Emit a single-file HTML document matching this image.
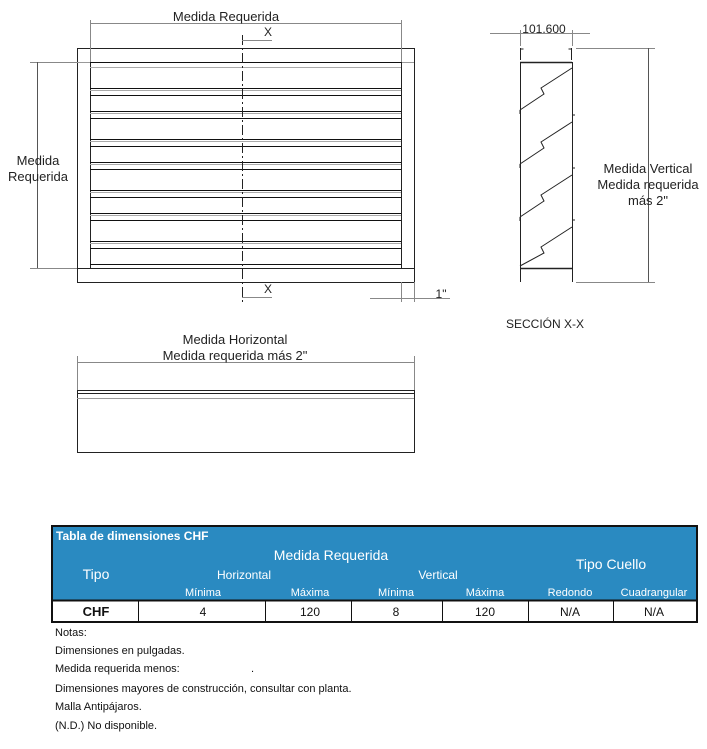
<!DOCTYPE html>
<html><head><meta charset="utf-8"><style>
body{margin:0;background:#fff;width:707px;height:749px;overflow:hidden;font-family:"Liberation Sans",sans-serif}
svg{position:absolute;left:0;top:0}
</style></head><body>
<svg width="707" height="749" viewBox="0 0 707 749" font-family="Liberation Sans, sans-serif">
<g stroke="#222" fill="none" stroke-width="1">
<!-- front view -->
<rect x="77.5" y="48.5" width="337" height="234"/>
<line x1="77" y1="62.5" x2="414" y2="62.5" stroke="#999"/>
<line x1="77" y1="268.5" x2="414" y2="268.5"/>
<line x1="90.5" y1="62" x2="90.5" y2="268"/>
<line x1="401.5" y1="62" x2="401.5" y2="268"/>
<g stroke="#111">
<line x1="90" y1="62.5" x2="401" y2="62.5"/>
<line x1="90" y1="88.5" x2="401" y2="88.5"/><line x1="90" y1="95.5" x2="401" y2="95.5"/>
<line x1="90" y1="111.5" x2="401" y2="111.5"/><line x1="90" y1="118.5" x2="401" y2="118.5"/>
<line x1="90" y1="139.5" x2="401" y2="139.5"/><line x1="90" y1="146.5" x2="401" y2="146.5"/>
<line x1="90" y1="162.5" x2="401" y2="162.5"/><line x1="90" y1="169.5" x2="401" y2="169.5"/>
<line x1="90" y1="190.5" x2="401" y2="190.5"/><line x1="90" y1="197.5" x2="401" y2="197.5"/>
<line x1="90" y1="213.5" x2="401" y2="213.5"/><line x1="90" y1="220.5" x2="401" y2="220.5"/>
<line x1="90" y1="241.5" x2="401" y2="241.5"/><line x1="90" y1="248.5" x2="401" y2="248.5"/>
<line x1="90" y1="264.5" x2="401" y2="264.5"/>
</g>
<g stroke="#aaa">
<line x1="90" y1="67.5" x2="401" y2="67.5"/><line x1="90" y1="90.5" x2="401" y2="90.5"/>
<line x1="90" y1="113.5" x2="401" y2="113.5"/><line x1="90" y1="141.5" x2="401" y2="141.5"/>
<line x1="90" y1="164.5" x2="401" y2="164.5"/><line x1="90" y1="192.5" x2="401" y2="192.5"/>
<line x1="90" y1="215.5" x2="401" y2="215.5"/><line x1="90" y1="243.5" x2="401" y2="243.5"/>
</g>
<line x1="242.5" y1="35" x2="242.5" y2="302" stroke-dasharray="10,3,2,3"/>
<!-- dims -->
<line x1="90.5" y1="20" x2="90.5" y2="62" stroke="#888"/>
<line x1="401.5" y1="20" x2="401.5" y2="62" stroke="#888"/>
<line x1="90" y1="23.5" x2="401" y2="23.5" stroke="#888"/>
<line x1="30" y1="62.5" x2="77" y2="62.5" stroke="#888"/>
<line x1="30" y1="268.5" x2="77" y2="268.5" stroke="#888"/>
<line x1="37.5" y1="62" x2="37.5" y2="268" stroke="#555"/>
<line x1="242" y1="40.5" x2="272" y2="40.5" stroke="#888"/>
<line x1="242" y1="297.5" x2="272" y2="297.5" stroke="#888"/>
<line x1="401.5" y1="282" x2="401.5" y2="302" stroke="#888"/>
<line x1="414.5" y1="282" x2="414.5" y2="302" stroke="#888"/>
<line x1="370" y1="298.5" x2="450" y2="298.5" stroke="#888"/>
<!-- section -->
<path d="M520.5 48v12M520.5 49h3M571.5 48v12M571.5 49h-3"/>
<line x1="520" y1="62.5" x2="572" y2="62.5" stroke-width="1.5"/>
<line x1="520.5" y1="62" x2="520.5" y2="268"/>
<line x1="572.5" y1="62" x2="572.5" y2="268"/>
<line x1="520" y1="268.5" x2="572" y2="268.5" stroke-width="1.5"/>
<path d="M520.5 268v14M572.5 268v14"/>
<path d="M572 68 L541 88 L544 94 L520 110 M572 122 L541 142 L544 148 L520 164 M572 175 L541 195 L544 201 L520 217 M572 227 L541 247 L544 253 L520 266"/>
<path d="M572 115h3M572 168h3M572 220h3M520 110v4M520 164v4M520 217v4"/>
<line x1="520.5" y1="30" x2="520.5" y2="46" stroke="#888"/>
<line x1="572.5" y1="30" x2="572.5" y2="46" stroke="#888"/>
<line x1="490" y1="33.5" x2="590" y2="33.5" stroke="#888"/>
<line x1="576" y1="48.5" x2="655" y2="48.5" stroke="#888"/>
<line x1="576" y1="282.5" x2="655" y2="282.5" stroke="#888"/>
<line x1="648.5" y1="48" x2="648.5" y2="282" stroke="#555"/>
<!-- bottom view -->
<line x1="77.5" y1="356" x2="77.5" y2="390" stroke="#888"/>
<line x1="414.5" y1="356" x2="414.5" y2="390" stroke="#888"/>
<line x1="77" y1="362.5" x2="414" y2="362.5" stroke="#888"/>
<rect x="77.5" y="390.5" width="337" height="62"/>
<line x1="77" y1="393.5" x2="414" y2="393.5"/>
<line x1="77" y1="398.5" x2="414" y2="398.5" stroke="#999"/>
</g>
<g font-family="Liberation Sans, DejaVu Sans, sans-serif" font-size="13" fill="#222" text-anchor="middle">
<text x="226" y="21">Medida Requerida</text>
<text x="38" y="165">Medida</text><text x="38" y="181">Requerida</text>
<text x="268" y="36" font-size="12">X</text>
<text x="268" y="293" font-size="12">X</text>
<text x="441" y="298" font-size="12">1"</text>
<text x="544" y="33" font-size="12">101.600</text>
<text x="648" y="173">Medida Vertical</text>
<text x="648" y="189">Medida requerida</text>
<text x="648" y="205">más 2"</text>
<text x="545" y="328" font-size="12">SECCIÓN X-X</text>
<text x="235" y="344">Medida Horizontal</text>
<text x="235" y="360">Medida requerida más 2"</text>
</g>
<!-- table -->
<rect x="52" y="526" width="645" height="96" fill="#fff" stroke="#111" stroke-width="2"/>
<rect x="53" y="527" width="643" height="73" fill="#2a8ac1"/>
<line x1="52" y1="600.5" x2="697" y2="600.5" stroke="#111" stroke-width="2"/>
<g stroke="#111"><line x1="138.5" y1="601" x2="138.5" y2="622"/><line x1="265.5" y1="601" x2="265.5" y2="622"/><line x1="351.5" y1="601" x2="351.5" y2="622"/><line x1="442.5" y1="601" x2="442.5" y2="622"/><line x1="528.5" y1="601" x2="528.5" y2="622"/><line x1="613.5" y1="601" x2="613.5" y2="622"/></g>
<g font-family="Liberation Sans, sans-serif" fill="#fff" text-anchor="middle">
<text x="56" y="540" font-size="12" font-weight="bold" text-anchor="start">Tabla de dimensiones  CHF</text>
<text x="331" y="560" font-size="14">Medida Requerida</text>
<text x="96" y="579" font-size="14">Tipo</text>
<text x="611" y="569" font-size="14">Tipo Cuello</text>
<text x="244" y="579" font-size="12">Horizontal</text>
<text x="438" y="579" font-size="12">Vertical</text>
<g font-size="11"><text x="203" y="596">Mínima</text><text x="310" y="596">Máxima</text><text x="396" y="596">Mínima</text><text x="485" y="596">Máxima</text><text x="570" y="596">Redondo</text><text x="654" y="596">Cuadrangular</text></g>
</g>
<g font-family="Liberation Sans, sans-serif" fill="#111" text-anchor="middle" font-size="12">
<text x="96" y="616" font-weight="bold" font-size="13">CHF</text><text x="203" y="616">4</text><text x="310" y="616">120</text><text x="396" y="616">8</text><text x="485" y="616">120</text><text x="570" y="616">N/A</text><text x="654" y="616">N/A</text>
</g>
<g font-family="Liberation Sans, sans-serif" fill="#111" font-size="11">
<text x="55" y="636">Notas:</text>
<text x="55" y="654">Dimensiones en pulgadas.</text>
<text x="55" y="672">Medida requerida menos:</text><text x="251" y="672">.</text>
<text x="55" y="692">Dimensiones mayores de construcción, consultar con planta.</text>
<text x="55" y="710">Malla Antipájaros.</text>
<text x="55" y="729">(N.D.) No disponible.</text>
</g>
</svg>
</body></html>
